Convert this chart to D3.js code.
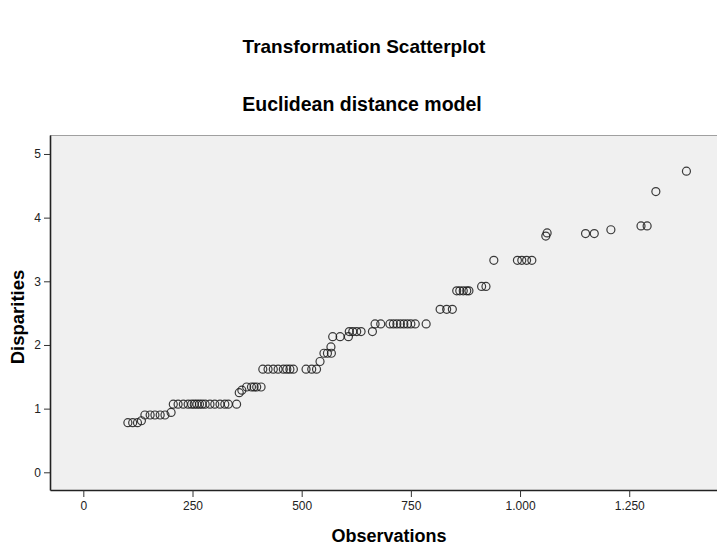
<!DOCTYPE html>
<html>
<head>
<meta charset="utf-8">
<script src="https://cdn.jsdelivr.net/npm/d3@7"></script>
<style>
    body { margin: 0; background: #ffffff; }
    text { font-family: "Liberation Sans", Arial, sans-serif; }
</style>
</head>
<body>
<script>
// observations (x) and disparities (y)
var observations = [102, 113, 124, 133,
    141, 153, 164, 176, 187, 201,
    206, 217, 229, 240, 248, 254, 260, 266, 272, 279, 290, 301, 313, 324, 332, 351,
    357, 363, 374, 385, 391, 397, 407,
    411, 423, 435, 446, 458, 466, 473, 481, 510, 523, 534,
    542, 551, 559, 568, 567,
    571, 588, 607,
    609, 617, 626, 636, 662,
    668, 681, 702, 710, 718, 726, 734, 742, 750, 760, 785,
    817, 832, 845,
    855, 862, 870, 878, 883,
    912, 922,
    940, 994, 1004, 1015, 1027,
    1059, 1062,
    1150, 1170, 1208,
    1277, 1291, 1311, 1381];
var disparities = [0.78, 0.78, 0.78, 0.81,
    0.90, 0.90, 0.90, 0.90, 0.90, 0.94,
    1.07, 1.07, 1.07, 1.07, 1.07, 1.07, 1.07, 1.07, 1.07, 1.07, 1.07, 1.07, 1.07, 1.07, 1.07, 1.07,
    1.25, 1.29, 1.34, 1.34, 1.34, 1.34, 1.34,
    1.62, 1.62, 1.62, 1.62, 1.62, 1.62, 1.62, 1.62, 1.62, 1.62, 1.62,
    1.74, 1.87, 1.87, 1.87, 1.97,
    2.13, 2.13, 2.13,
    2.21, 2.21, 2.21, 2.21, 2.21,
    2.33, 2.33, 2.33, 2.33, 2.33, 2.33, 2.33, 2.33, 2.33, 2.33, 2.33,
    2.56, 2.56, 2.56,
    2.85, 2.85, 2.85, 2.85, 2.85,
    2.92, 2.92,
    3.33, 3.33, 3.33, 3.33, 3.33,
    3.71, 3.76,
    3.75, 3.75, 3.81,
    3.87, 3.87, 4.41, 4.73];
var xTicks = [0, 250, 500, 750, 1000, 1250];
var yTicks = [0, 1, 2, 3, 4, 5];

var w = 717;
var h = 549;
var plotLeft = 50, plotRight = 717, plotTop = 135, plotBottom = 490;

var svg = d3.select("body").append("svg").attr("width", w).attr("height", h);

var x = d3.scaleLinear().domain([-76.3, 1451]).range([plotLeft, plotRight]);
var y = d3.scaleLinear().domain([-0.278, 5.298]).range([plotBottom, plotTop]);

// european style thousands separator, as in the original
var locale = d3.formatLocale({ decimal: ",", thousands: ".", grouping: [3], currency: ["", ""] });
var fmt = locale.format(",d");

svg.append("rect")
    .attr("x", plotLeft)
    .attr("y", plotTop)
    .attr("width", plotRight - plotLeft)
    .attr("height", plotBottom - plotTop)
    .attr("fill", "#f0f0f0");

svg.append("line")
    .attr("x1", plotLeft).attr("x2", plotRight)
    .attr("y1", plotTop + 0.5).attr("y2", plotTop + 0.5)
    .attr("stroke", "#a0a0a0");

var xAxis = svg.append("g")
    .attr("transform", "translate(0," + plotBottom + ")")
    .call(d3.axisBottom(x).tickValues(xTicks).tickFormat(fmt).tickSize(7).tickSizeOuter(0).tickPadding(4));
var yAxis = svg.append("g")
    .attr("transform", "translate(" + plotLeft + ",0)")
    .call(d3.axisLeft(y).tickValues(yTicks).tickFormat(d3.format("d")).tickSize(6).tickSizeOuter(0).tickPadding(3));

[xAxis, yAxis].forEach(function (a) {
    a.select(".domain").attr("stroke", "#222").attr("stroke-width", 1.6);
    a.selectAll(".tick line").attr("stroke", "#333");
    a.selectAll(".tick text")
        .style("font-size", "12px")
        .style("font-family", "Liberation Sans, Arial, sans-serif")
        .attr("fill", "#222");
});

svg.append("g")
    .selectAll("circle")
    .data(observations)
    .enter()
    .append("circle")
    .attr("cx", function (d) { return x(d); })
    .attr("cy", function (d, i) { return y(disparities[i]); })
    .attr("r", 4)
    .attr("fill", "none")
    .attr("stroke", "#1a1a1a")
    .attr("stroke-width", 1.2)
    .attr("stroke-opacity", 0.85);

svg.append("text")
    .attr("x", 364)
    .attr("y", 53)
    .attr("text-anchor", "middle")
    .style("font-size", "19px")
    .style("font-weight", "bold")
    .text("Transformation Scatterplot");

svg.append("text")
    .attr("x", 362)
    .attr("y", 111)
    .attr("text-anchor", "middle")
    .style("font-size", "19.5px")
    .style("font-weight", "bold")
    .text("Euclidean distance model");

svg.append("text")
    .attr("x", 389)
    .attr("y", 542)
    .attr("text-anchor", "middle")
    .style("font-size", "18px")
    .style("font-weight", "bold")
    .text("Observations");

svg.append("text")
    .attr("transform", "translate(24,317) rotate(-90)")
    .attr("text-anchor", "middle")
    .style("font-size", "18.5px")
    .style("font-weight", "bold")
    .text("Disparities");
</script>
</body>
</html>
